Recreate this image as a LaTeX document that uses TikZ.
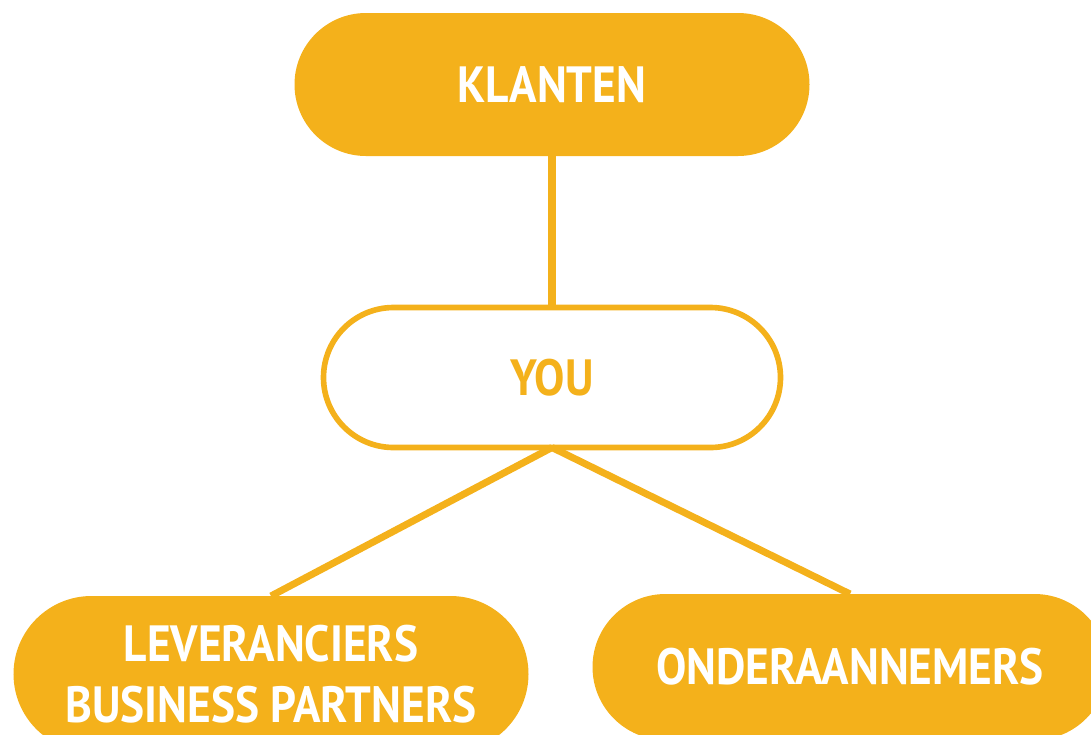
\documentclass[tikz,border=0pt]{standalone}
\usepackage{fontspec}
\newfontfamily\pillfont{PT Sans}[FakeStretch=0.89]
\usetikzlibrary{positioning}
\definecolor{gold}{HTML}{F4B11B}

\tikzstyle{pill} = [rectangle, rounded corners=1.43cm, minimum width=10.3cm, minimum height=2.86cm, text centered, align=center, fill=gold, draw=none, outer sep=0pt, text=white, font=\pillfont\bfseries\fontsize{29}{34.7}\selectfont]
\tikzstyle{hollow} = [rectangle, rounded corners=1.4cm, minimum width=9.14cm, minimum height=2.8cm, text centered, fill=white, draw=gold, line width=3.2pt, outer sep=0pt, text=gold, font=\pillfont\bfseries\fontsize{29}{34.7}\selectfont]

\begin{document}
\begin{tikzpicture}[-,node distance=5.86cm]
\clip (0,0) rectangle (21.82,-14.68);

\node[pill] (Klanten) at (11.04,-1.69) {KLANTEN};
\node[hollow] (You) [below of=Klanten] {YOU};
\node[pill] (Leveranciers) [below of=You, node distance=5.93cm, xshift=-5.62cm, minimum height=3.12cm, rounded corners=1.56cm] {LEVERANCIERS\\BUSINESS PARTNERS};
\node[pill] (Onderaannemers) [below of=You, node distance=5.79cm, xshift=5.96cm, minimum height=2.92cm, rounded corners=1.46cm] {ONDERAANNEMERS};

\path[draw=gold, line width=4pt]
  (Klanten) edge (You)
  (You.south) edge (Leveranciers.north)
  (You.south) edge (Onderaannemers.north)
  ;

\end{tikzpicture}
\end{document}
